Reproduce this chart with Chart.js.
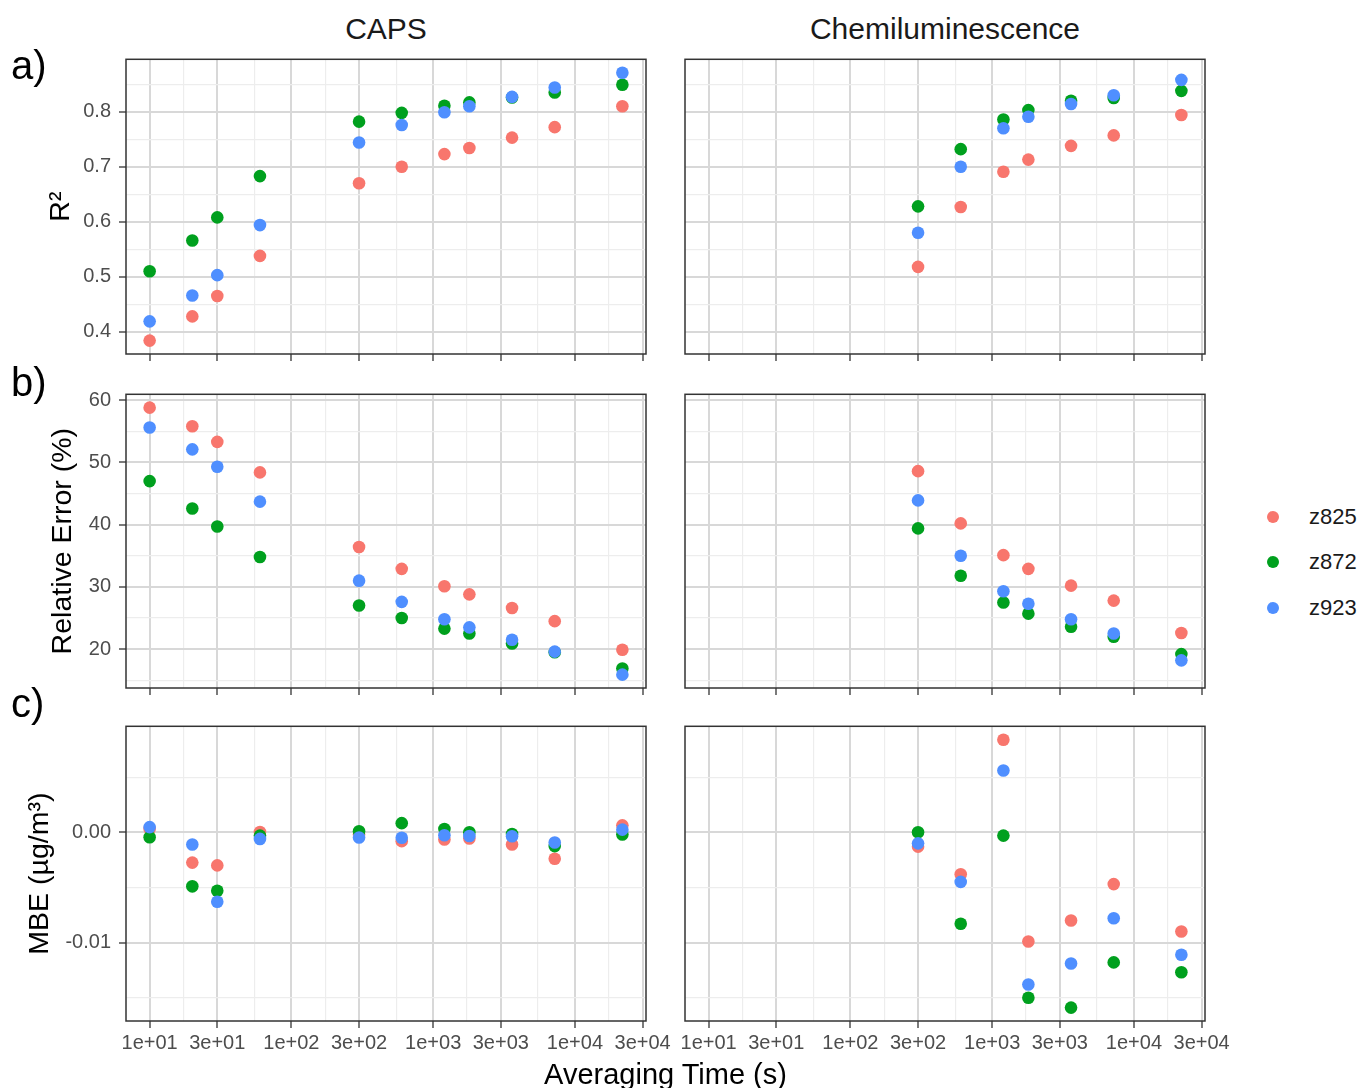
<!DOCTYPE html>
<html>
<head>
<meta charset="utf-8">
<script src="https://cdn.jsdelivr.net/npm/chart.js@4.4.1/dist/chart.umd.min.js"></script>
<style>
  body { margin: 0; background: #ffffff; }
  #fig { position: relative; width: 1362px; height: 1088px; overflow: hidden; font-family: "Liberation Sans", Arial, Helvetica, sans-serif; }
  #fig canvas { position: absolute; }
  .txt { position: absolute; white-space: nowrap; line-height: 1; }
</style>
</head>
<body>
<div id="fig"></div>
<script>
// averaging times (s)
var capsTimes = [10, 20, 30, 60, 300, 600, 1200, 1800, 3600, 7200, 21600];
var chemTimes = [300, 600, 1200, 1800, 3600, 7200, 21600];

var seriesNames = ['z825', 'z872', 'z923'];
var seriesColors = ['#F8766D', '#00A01E', '#4F8FFF'];

// a) R2
var capsR2_z825 = [0.384, 0.428, 0.465, 0.538, 0.670, 0.700, 0.723, 0.734, 0.753, 0.772, 0.810];
var capsR2_z872 = [0.510, 0.566, 0.608, 0.683, 0.782, 0.798, 0.811, 0.817, 0.826, 0.835, 0.849];
var capsR2_z923 = [0.419, 0.466, 0.503, 0.594, 0.744, 0.776, 0.799, 0.810, 0.827, 0.844, 0.871];
var chemR2_z825 = [0.518, 0.627, 0.691, 0.713, 0.738, 0.757, 0.794];
var chemR2_z872 = [0.628, 0.732, 0.786, 0.803, 0.820, 0.825, 0.838];
var chemR2_z923 = [0.580, 0.700, 0.770, 0.791, 0.814, 0.830, 0.858];

// b) relative error (%)
var capsRE_z825 = [58.8, 55.8, 53.3, 48.4, 36.4, 32.9, 30.1, 28.8, 26.6, 24.5, 19.9];
var capsRE_z872 = [47.0, 42.6, 39.7, 34.8, 27.0, 25.0, 23.3, 22.5, 20.9, 19.5, 16.9];
var capsRE_z923 = [55.6, 52.1, 49.3, 43.7, 31.0, 27.6, 24.8, 23.5, 21.5, 19.6, 15.9];
var chemRE_z825 = [48.6, 40.2, 35.1, 32.9, 30.2, 27.8, 22.6];
var chemRE_z872 = [39.4, 31.8, 27.5, 25.7, 23.6, 22.0, 19.2];
var chemRE_z923 = [43.9, 35.0, 29.3, 27.3, 24.8, 22.5, 18.2];

// c) MBE (ug/m3)
var capsMBE_z825 = [0.0003, -0.00275, -0.0030, 0.00003, -0.0002, -0.0008, -0.00065, -0.00056, -0.0011, -0.0024, 0.00063];
var capsMBE_z872 = [-0.00045, -0.0049, -0.0053, -0.0003, 0.0001, 0.00083, 0.0003, 0.0, -0.00015, -0.00125, -0.0002];
var capsMBE_z923 = [0.00047, -0.0011, -0.0063, -0.0006, -0.00047, -0.0005, -0.00027, -0.00033, -0.00036, -0.00092, 0.00024];
var chemMBE_z825 = [-0.0013, -0.0038, 0.0084, -0.0099, -0.0080, -0.0047, -0.0090];
var chemMBE_z872 = [0.0, -0.0083, -0.0003, -0.0150, -0.0159, -0.0118, -0.0127];
var chemMBE_z923 = [-0.0010, -0.0045, 0.0056, -0.0138, -0.0119, -0.0078, -0.0111];

// axis ticks
var xTicks = [10, 30, 100, 300, 1000, 3000, 10000, 30000];
var xTickLabels = ['1e+01', '3e+01', '1e+02', '3e+02', '1e+03', '3e+03', '1e+04', '3e+04'];
var r2Ticks = [0.4, 0.5, 0.6, 0.7, 0.8];
var r2Labels = ['0.4', '0.5', '0.6', '0.7', '0.8'];
var r2Minor = [0.45, 0.55, 0.65, 0.75, 0.85];
var reTicks = [20, 30, 40, 50, 60];
var reLabels = ['20', '30', '40', '50', '60'];
var reMinor = [15, 25, 35, 45, 55];
var mbeTicks = [-0.01, 0.0];
var mbeLabels = ['-0.01', '0.00'];
var mbeMinor = [-0.015, -0.005, 0.005];

var facetTitles = ['CAPS', 'Chemiluminescence'];
var rowTags = ['a)', 'b)', 'c)'];
var yTitles = ['R\u00b2', 'Relative Error (%)', 'MBE (\u00b5g/m\u00b3)'];
var xTitle = 'Averaging Time (s)';

var FONT = '"Liberation Sans", Arial, Helvetica, sans-serif';

// ggplot style 5% expansion of a range
function expand(lo, hi) {
  var d = (hi - lo) * 0.05;
  return [lo - d, hi + d];
}

var rows = [
  { caps: [capsR2_z825, capsR2_z872, capsR2_z923], chem: [chemR2_z825, chemR2_z872, chemR2_z923],
    ticks: r2Ticks, labels: r2Labels, minor: r2Minor, title: yTitles[0] },
  { caps: [capsRE_z825, capsRE_z872, capsRE_z923], chem: [chemRE_z825, chemRE_z872, chemRE_z923],
    ticks: reTicks, labels: reLabels, minor: reMinor, title: yTitles[1] },
  { caps: [capsMBE_z825, capsMBE_z872, capsMBE_z923], chem: [chemMBE_z825, chemMBE_z872, chemMBE_z923],
    ticks: mbeTicks, labels: mbeLabels, minor: mbeMinor, title: yTitles[2] }
];

// panel geometry
var colLeft = [126, 685];
var panelW = 520;
var rowTop = [57, 392, 724];
var rowH = [297, 296, 297];
var canvasLeft = [0, 660];
var canvasW = [680, 580];
var xAxisH = [8, 8, 46];
var yTitleX = [61, 63, 40];

var logLo = Math.log10(Math.min.apply(null, capsTimes));
var logHi = Math.log10(Math.max.apply(null, capsTimes));
var xRange = expand(logLo, logHi);

// geometric midpoints of the major x ticks
var xMinor = [];
for (var i = 0; i < xTicks.length - 1; i++) xMinor.push(Math.sqrt(xTicks[i] * xTicks[i + 1]));

var panelBorder = {
  id: 'panelBorder',
  afterDatasetsDraw: function(chart) {
    var a = chart.chartArea, ctx = chart.ctx;
    ctx.save();
    ctx.strokeStyle = '#333333';
    ctx.lineWidth = 1.5;
    ctx.strokeRect(a.left, a.top, a.right - a.left, a.bottom - a.top);
    ctx.restore();
  }
};

var fig = document.getElementById('fig');

function gridColor(c) { return c.tick && c.tick.minor ? '#ededed' : '#d8d8d8'; }
function gridWidth(c) { return c.tick && c.tick.minor ? 1.2 : 2; }
function tickColor(c) { return c.tick && c.tick.minor ? 'rgba(0,0,0,0)' : '#333333'; }

// no label overhang padding, the canvas already has room for it
function noPad(s) {
  s.paddingTop = 0;
  s.paddingBottom = 0;
  s.paddingLeft = 0;
  s.paddingRight = 0;
}

function makePanel(r, c) {
  var row = rows[r];
  var times = c === 0 ? capsTimes : chemTimes;
  var vals = c === 0 ? row.caps : row.chem;

  var all = row.caps[0].concat(row.caps[1], row.caps[2], row.chem[0], row.chem[1], row.chem[2]);
  var yRange = expand(Math.min.apply(null, all), Math.max.apply(null, all));

  var canvas = document.createElement('canvas');
  var padTop = 4;
  var h = padTop + rowH[r] + xAxisH[r];
  canvas.width = canvasW[c];
  canvas.height = h;
  canvas.style.left = canvasLeft[c] + 'px';
  canvas.style.top = (rowTop[r] - padTop) + 'px';
  canvas.style.width = canvasW[c] + 'px';
  canvas.style.height = h + 'px';
  fig.appendChild(canvas);

  var datasets = seriesNames.map(function(name, k) {
    return {
      label: name,
      data: times.map(function(t, j) { return { x: t, y: vals[k][j] }; }),
      backgroundColor: seriesColors[k],
      borderWidth: 0,
      pointRadius: 6.3,
      order: 2 - k
    };
  });

  var yAxisW = c === 0 ? 126 : 25;
  var lineH = 28.5 * 1.2;

  new Chart(canvas, {
    type: 'scatter',
    data: { datasets: datasets },
    options: {
      responsive: false,
      devicePixelRatio: 1,
      animation: false,
      events: [],
      layout: { padding: { top: padTop, right: canvasW[c] - (colLeft[c] - canvasLeft[c]) - panelW, left: 0, bottom: 0 } },
      plugins: { legend: { display: false }, tooltip: { enabled: false } },
      scales: {
        x: {
          type: 'logarithmic',
          min: Math.pow(10, xRange[0]),
          max: Math.pow(10, xRange[1]),
          afterBuildTicks: function(s) {
            s.ticks = xTicks.map(function(v) { return { value: v }; })
              .concat(xMinor.map(function(v) { return { value: v, minor: true }; }));
          },
          afterFit: function(s) { s.height = xAxisH[r]; noPad(s); },
          border: { display: false },
          grid: { color: gridColor, lineWidth: gridWidth, tickColor: tickColor, tickWidth: 1.3, tickLength: 7 },
          ticks: {
            display: r === 2,
            autoSkip: false,
            maxRotation: 0,
            minRotation: 0,
            padding: 3,
            color: '#4D4D4D',
            font: { family: FONT, size: 20 },
            callback: function(v) {
              var idx = xTicks.indexOf(v);
              return idx >= 0 ? xTickLabels[idx] : '';
            }
          }
        },
        y: {
          type: 'linear',
          min: yRange[0],
          max: yRange[1],
          afterBuildTicks: function(s) {
            s.ticks = row.ticks.map(function(v) { return { value: v }; })
              .concat(row.minor.map(function(v) { return { value: v, minor: true }; }));
          },
          afterFit: function(s) { s.width = yAxisW; noPad(s); },
          border: { display: false },
          grid: { color: gridColor, lineWidth: gridWidth, tickColor: tickColor, tickWidth: 1.3, tickLength: 7, drawTicks: c === 0 },
          ticks: {
            display: c === 0,
            padding: 8,
            color: '#4D4D4D',
            font: { family: FONT, size: 20 },
            callback: function(v) {
              for (var k = 0; k < row.ticks.length; k++) {
                if (Math.abs(row.ticks[k] - v) < 1e-9) return row.labels[k];
              }
              return '';
            }
          },
          title: {
            display: c === 0,
            text: row.title,
            color: '#000000',
            font: { family: FONT, size: 28.5 },
            padding: { top: yTitleX[r] - lineH / 2, bottom: 0 }
          }
        }
      }
    },
    plugins: [panelBorder]
  });
}

for (var r = 0; r < 3; r++) {
  for (var c = 0; c < 2; c++) makePanel(r, c);
}

// text around the panels
function addText(text, x, y, size, color, center) {
  var d = document.createElement('div');
  d.className = 'txt';
  d.textContent = text;
  d.style.left = x + 'px';
  d.style.top = y + 'px';
  d.style.fontSize = size + 'px';
  d.style.color = color;
  if (center) d.style.transform = 'translate(-50%, -50%)';
  else d.style.transform = 'translate(0, -50%)';
  fig.appendChild(d);
}

addText(facetTitles[0], colLeft[0] + panelW / 2, 29, 30, '#1A1A1A', true);
addText(facetTitles[1], colLeft[1] + panelW / 2, 29, 30, '#1A1A1A', true);
addText(xTitle, (colLeft[0] + colLeft[1] + panelW) / 2, 1074, 29, '#000000', true);

var tagY = [65, 382, 703];
rowTags.forEach(function(t, i) { addText(t, 11, tagY[i], 40, '#000000', false); });

// shared legend
var legY = [517, 562, 608];
seriesNames.forEach(function(name, k) {
  var dot = document.createElement('div');
  dot.style.position = 'absolute';
  dot.style.left = (1273 - 6.3) + 'px';
  dot.style.top = (legY[k] - 6.3) + 'px';
  dot.style.width = '12.6px';
  dot.style.height = '12.6px';
  dot.style.borderRadius = '50%';
  dot.style.background = seriesColors[k];
  fig.appendChild(dot);
  addText(name, 1309, legY[k], 22, '#1A1A1A', false);
});
</script>
</body>
</html>
